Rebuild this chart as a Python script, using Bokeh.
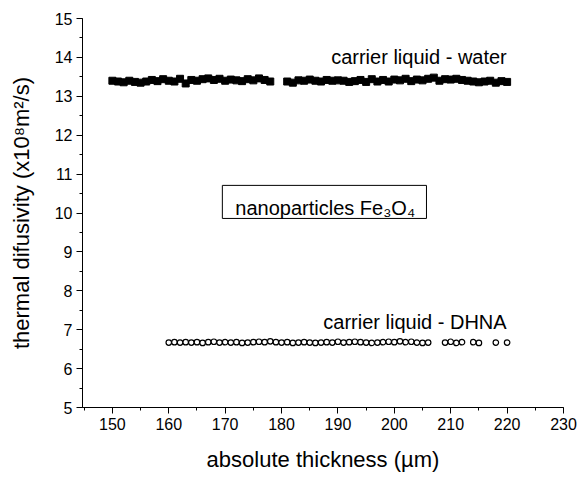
from bokeh.plotting import figure
from bokeh.models import Range1d, FixedTicker, Label, BoxAnnotation
from bokeh.embed import file_html
from bokeh.resources import INLINE

# --- data ---
water_x = list(range(150, 179)) + list(range(181, 221))
water_y = [13.40, 13.38, 13.36, 13.40, 13.37, 13.35, 13.38, 13.42, 13.39, 13.44,
           13.40, 13.38, 13.45, 13.33, 13.42, 13.40, 13.44, 13.46, 13.42, 13.45,
           13.40, 13.43, 13.41, 13.39, 13.44, 13.41, 13.46, 13.42, 13.38,
           13.38, 13.35, 13.41, 13.40, 13.43, 13.40, 13.38, 13.42, 13.40, 13.41,
           13.40, 13.37, 13.39, 13.42, 13.37, 13.44, 13.38, 13.42, 13.38, 13.43,
           13.41, 13.45, 13.39, 13.43, 13.41, 13.45, 13.48, 13.40, 13.44, 13.43,
           13.45, 13.42, 13.40, 13.38, 13.36, 13.38, 13.40, 13.35, 13.39, 13.37]

dhna_x = list(range(160, 207)) + [209, 210, 211, 212, 214, 215, 218, 220]
dhna_y = [6.67, 6.68, 6.67, 6.68, 6.67, 6.68, 6.66, 6.68, 6.69, 6.67,
          6.68, 6.67, 6.68, 6.66, 6.67, 6.68, 6.69, 6.68, 6.70, 6.68,
          6.67, 6.68, 6.66, 6.67, 6.68, 6.67, 6.66, 6.67, 6.68, 6.67,
          6.69, 6.67, 6.68, 6.69, 6.68, 6.67, 6.66, 6.67, 6.68, 6.69,
          6.68, 6.70, 6.68, 6.69, 6.67, 6.66, 6.67,
          6.67, 6.69, 6.66, 6.68, 6.68, 6.66, 6.67, 6.67]

x_ticks = list(range(150, 231, 10))
x_minor = list(range(145, 231, 5))
y_ticks = list(range(5, 16))
y_minor = [5 + 0.5 * i for i in range(21)]

FONT = "Liberation Sans"

p = figure(frame_width=481, frame_height=389, output_backend="svg",
           toolbar_location=None,
           x_range=Range1d(144.7, 230), y_range=Range1d(5, 15),
           min_border_left=82, min_border_right=14, min_border_top=18,
           min_border_bottom=70)
p.outline_line_color = None
p.xgrid.visible = False
p.ygrid.visible = False

p.scatter(water_x, water_y, marker="square", size=7, fill_color="black",
          line_color="black")
p.scatter(dhna_x, dhna_y, marker="circle", size=5.5, fill_color="white",
          line_color="black", line_width=1.2)

for ax in (p.xaxis[0], p.yaxis[0]):
    ax.axis_line_color = "black"
    ax.axis_line_width = 1
    ax.major_tick_line_color = "black"
    ax.minor_tick_line_color = "black"
    ax.major_tick_in = 0
    ax.major_tick_out = 6
    ax.minor_tick_in = 0
    ax.minor_tick_out = 3
    ax.major_label_text_font = FONT
    ax.major_label_text_font_size = "16px"
    ax.major_label_text_color = "black"
    ax.major_label_standoff = 4
    ax.axis_label_text_font = FONT
    ax.axis_label_text_font_style = "normal"
    ax.axis_label_text_font_size = "22px"
    ax.axis_label_text_color = "black"

p.xaxis.ticker = FixedTicker(ticks=x_ticks, minor_ticks=x_minor)
p.yaxis.ticker = FixedTicker(ticks=y_ticks, minor_ticks=y_minor)
p.xaxis.axis_label = "absolute thickness (\u00b5m)"
p.yaxis.axis_label = "thermal difusivity (x10\u2078m\u00b2/s)"
p.xaxis.axis_label_standoff = 14
p.yaxis.axis_label_standoff = 18

p.add_layout(Label(x=188.8, y=14.0, text="carrier liquid - water",
                   text_font=FONT, text_font_size="20px", text_color="black",
                   text_baseline="alphabetic"))
p.add_layout(Label(x=187.4, y=7.19, text="carrier liquid - DHNA",
                   text_font=FONT, text_font_size="20px", text_color="black",
                   text_baseline="alphabetic"))
p.add_layout(BoxAnnotation(left=169.5, right=205.7, bottom=9.86, top=10.71,
                           fill_color=None, fill_alpha=0, line_color="black",
                           line_alpha=1.0, line_width=1))
p.add_layout(Label(x=171.8, y=10.12, text="nanoparticles Fe\u2083O\u2084",
                   text_font=FONT, text_font_size="20px", text_color="black",
                   text_baseline="alphabetic"))

open("out.html", "w").write(file_html(p, INLINE))
